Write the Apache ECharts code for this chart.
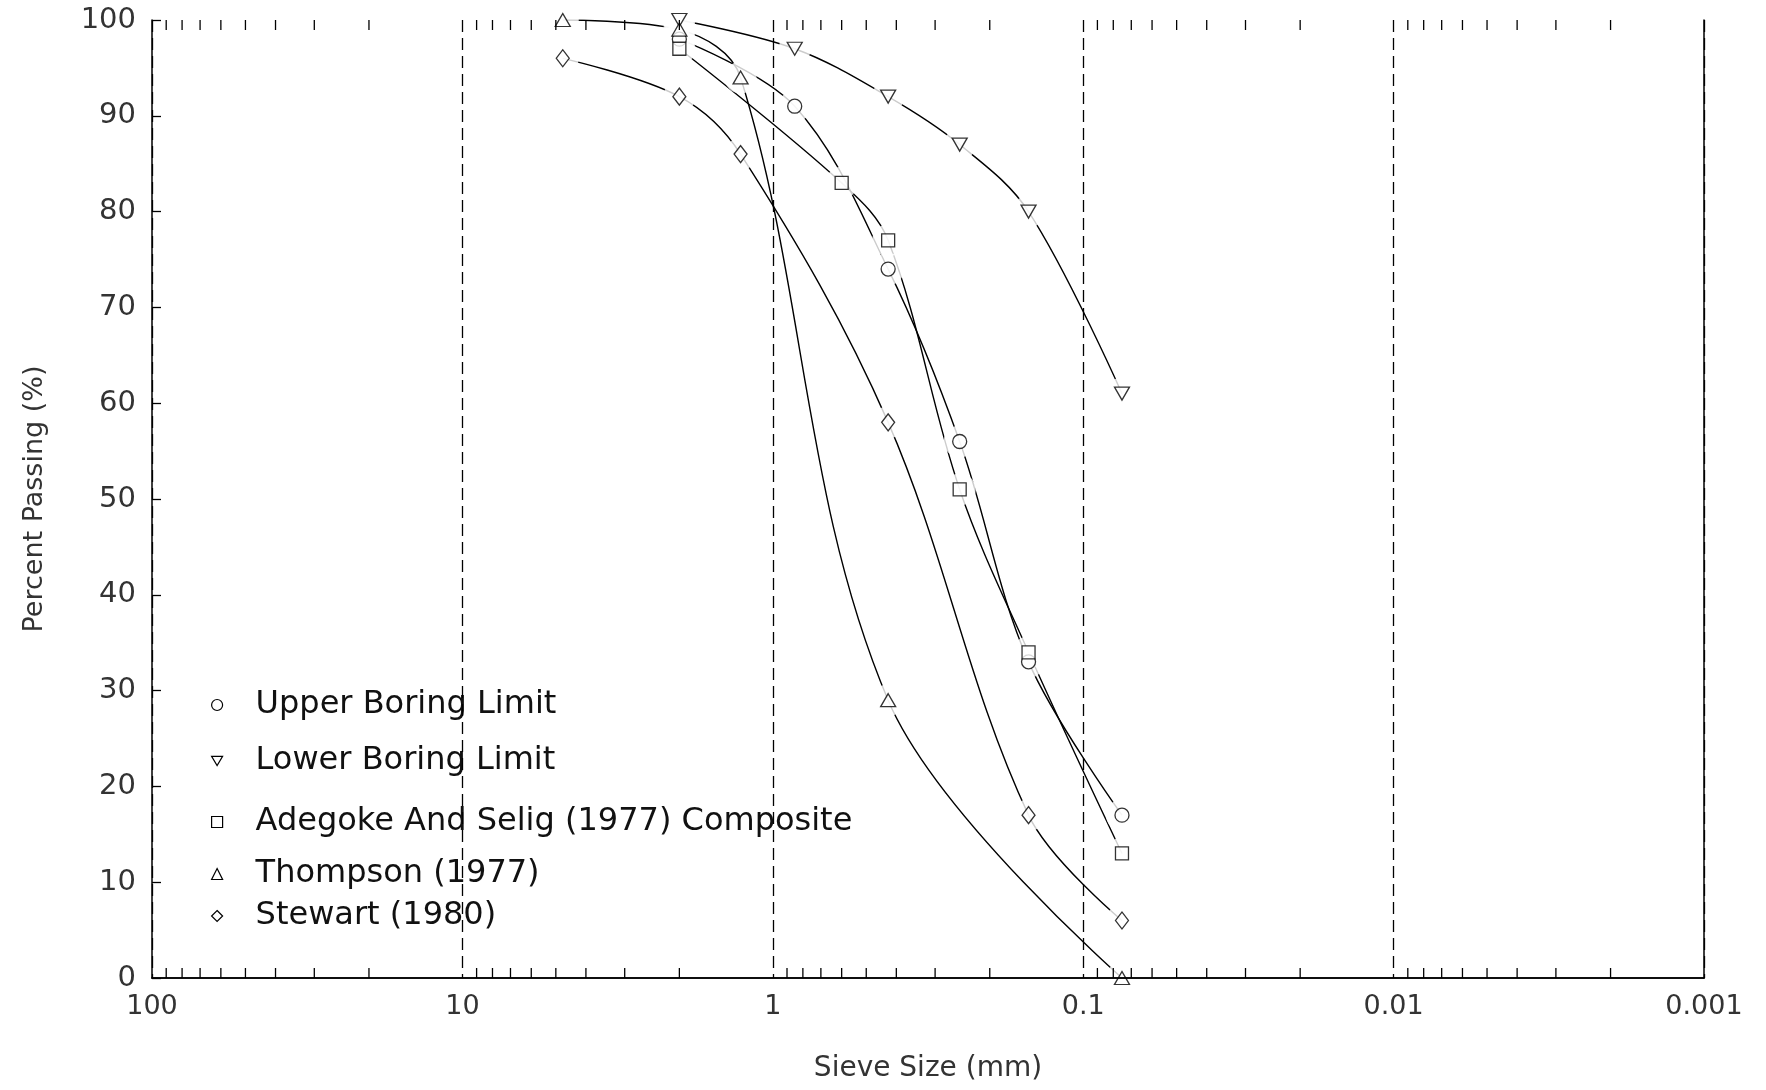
<!DOCTYPE html>
<html>
<head>
<meta charset="utf-8">
<script src="https://cdn.jsdelivr.net/npm/echarts@6/dist/echarts.min.js"></script>
<style>html,body{margin:0;padding:0;background:#fff;}#c{width:1766px;height:1090px;}</style>
</head>
<body>
<div id="c"></div>
<script>
// ---- data ----
const upperX    = [2.0, 0.85, 0.425, 0.25, 0.15, 0.075];
const upperY    = [98, 91, 74, 56, 33, 17];
const lowerX    = [2.0, 0.85, 0.425, 0.25, 0.15, 0.075];
const lowerY    = [100, 97, 92, 87, 80, 61];
const adegokeX  = [2.0, 0.6, 0.425, 0.25, 0.15, 0.075];
const adegokeY  = [97, 83, 77, 51, 34, 13];
const thompsonX = [4.75, 2.0, 1.27, 0.425, 0.075];
const thompsonY = [100, 99, 94, 29, 0];
const stewartX  = [4.75, 2.0, 1.27, 0.425, 0.15, 0.075];
const stewartY  = [96, 92, 86, 58, 17, 6];

const seriesNames = ['Upper Boring Limit', 'Lower Boring Limit', 'Adegoke And Selig (1977) Composite', 'Thompson (1977)', 'Stewart (1980)'];
const xTickLabels = [100, 10, 1, 0.1, 0.01, 0.001];
const minorTicks = [90, 80, 70, 60, 50, 40, 30, 20,
                    9, 8, 7, 6, 5, 4, 3, 2,
                    0.9, 0.8, 0.7, 0.6, 0.5, 0.4, 0.3, 0.2,
                    0.09, 0.08, 0.07, 0.06, 0.05, 0.04, 0.03, 0.02,
                    0.009, 0.008, 0.007, 0.006, 0.005, 0.004, 0.003, 0.002];

const downTri = 'path://M0,0 L20,0 L10,17 Z';
const symbols = ['circle', downTri, 'rect', 'triangle', 'diamond'];
const symSizes = [14, [15, 13], 13, [15, 13], [13, 17]];
const xs = [upperX, lowerX, adegokeX, thompsonX, stewartX];
const ys = [upperY, lowerY, adegokeY, thompsonY, stewartY];
const pairs = xs.map((xa, i) => xa.map((x, j) => [x, ys[i][j]]));

const FONT = 'DejaVu Sans';
const series = [];
pairs.forEach((d, i) => {
  series.push({
    name: seriesNames[i], type: 'line', data: d, smooth: 0.35, showSymbol: false,
    lineStyle: {color: '#000', width: 1.4}, itemStyle: {color: '#fff', borderColor: '#000'},
    z: 3, silent: true
  });
});
// white gaps around markers
series.push({
  type: 'scatter', data: [].concat(...pairs), symbol: 'circle', symbolSize: 32,
  itemStyle: {color: '#fff'}, z: 4, silent: true
});
pairs.forEach((d, i) => {
  series.push({
    name: seriesNames[i], type: 'scatter', data: d, symbol: symbols[i], symbolSize: symSizes[i],
    itemStyle: {color: '#fff', borderColor: '#000', borderWidth: 1.3}, z: 5, silent: true
  });
});
// minor log ticks on top and bottom edges
series.push({
  type: 'custom', data: minorTicks.map(v => [v, 0]), z: 12, silent: true, clip: false,
  encode: {x: 0, y: 1},
  renderItem: function (params, api) {
    const v = api.value(0);
    const pb = api.coord([v, 0]);
    const pt = api.coord([v, 100]);
    return {type: 'group', children: [
      {type: 'line', shape: {x1: pb[0], y1: pb[1], x2: pb[0], y2: pb[1] - 10}, style: {stroke: '#000', lineWidth: 1.3}},
      {type: 'line', shape: {x1: pt[0], y1: pt[1], x2: pt[0], y2: pt[1] + 10}, style: {stroke: '#000', lineWidth: 1.3}}
    ]};
  }
});

const legendRows = [702, 758, 819, 871, 913];
const legendIcons = ['circle', downTri, 'rect', 'triangle', 'diamond'];
const legends = seriesNames.map((n, i) => ({
  data: [n], left: 206, top: legendRows[i] - 18, orient: 'horizontal',
  icon: legendIcons[i], itemWidth: 11, itemHeight: 11,
  itemStyle: {color: '#fff', borderColor: '#000', borderWidth: 1.2},
  textStyle: {fontFamily: FONT, fontSize: 32, color: '#111', padding: [0, 0, 0, 28]},
  selectedMode: false
}));

const chart = echarts.init(document.getElementById('c'), null, {renderer: 'canvas'});
chart.setOption({
  backgroundColor: '#fff',
  animation: false,
  grid: {left: 152, right: 62, top: 20, bottom: 112, containLabel: false},
  legend: legends,
  xAxis: [{
    type: 'log', logBase: 10, min: 0.001, max: 100, inverse: true, z: 10,
    name: 'Sieve Size (mm)', nameLocation: 'middle', nameGap: 77,
    nameTextStyle: {fontFamily: FONT, fontSize: 28, color: '#333'},
    axisLine: {show: true, lineStyle: {color: '#000', width: 1.5}},
    axisTick: {show: false},
    axisLabel: {fontFamily: FONT, fontSize: 27, color: '#333', margin: 15,
      formatter: v => { const m = xTickLabels.find(t => Math.abs(Math.log10(t) - Math.log10(v)) < 1e-6); return m === undefined ? '' : String(m); }},
    splitLine: {show: true, lineStyle: {color: '#000', type: [12, 6], width: 1.3}},
    minorTick: {show: false}
  }, {
    type: 'log', logBase: 10, min: 0.001, max: 100, inverse: true, position: 'top', z: 10,
    axisLine: {show: true, lineStyle: {color: '#000', width: 1.5}},
    axisTick: {show: false}, axisLabel: {show: false}, splitLine: {show: false}
  }],
  yAxis: [{
    type: 'value', min: 0, max: 100, interval: 10, z: 10,
    name: 'Percent Passing (%)', nameLocation: 'middle', nameGap: 104,
    nameTextStyle: {fontFamily: FONT, fontSize: 27, color: '#333'},
    axisLine: {show: true, lineStyle: {color: '#000', width: 1.5}},
    axisTick: {show: true, inside: true, length: 9, lineStyle: {color: '#000', width: 1.3}},
    axisLabel: {fontFamily: FONT, fontSize: 29, color: '#333', margin: 16},
    splitLine: {show: false}
  }, {
    type: 'value', min: 0, max: 100, interval: 10, position: 'right', z: 10,
    axisLine: {show: true, lineStyle: {color: '#000', width: 1.5}},
    axisTick: {show: false}, axisLabel: {show: false}, splitLine: {show: false}
  }],
  series: series
});
</script>
</body>
</html>
